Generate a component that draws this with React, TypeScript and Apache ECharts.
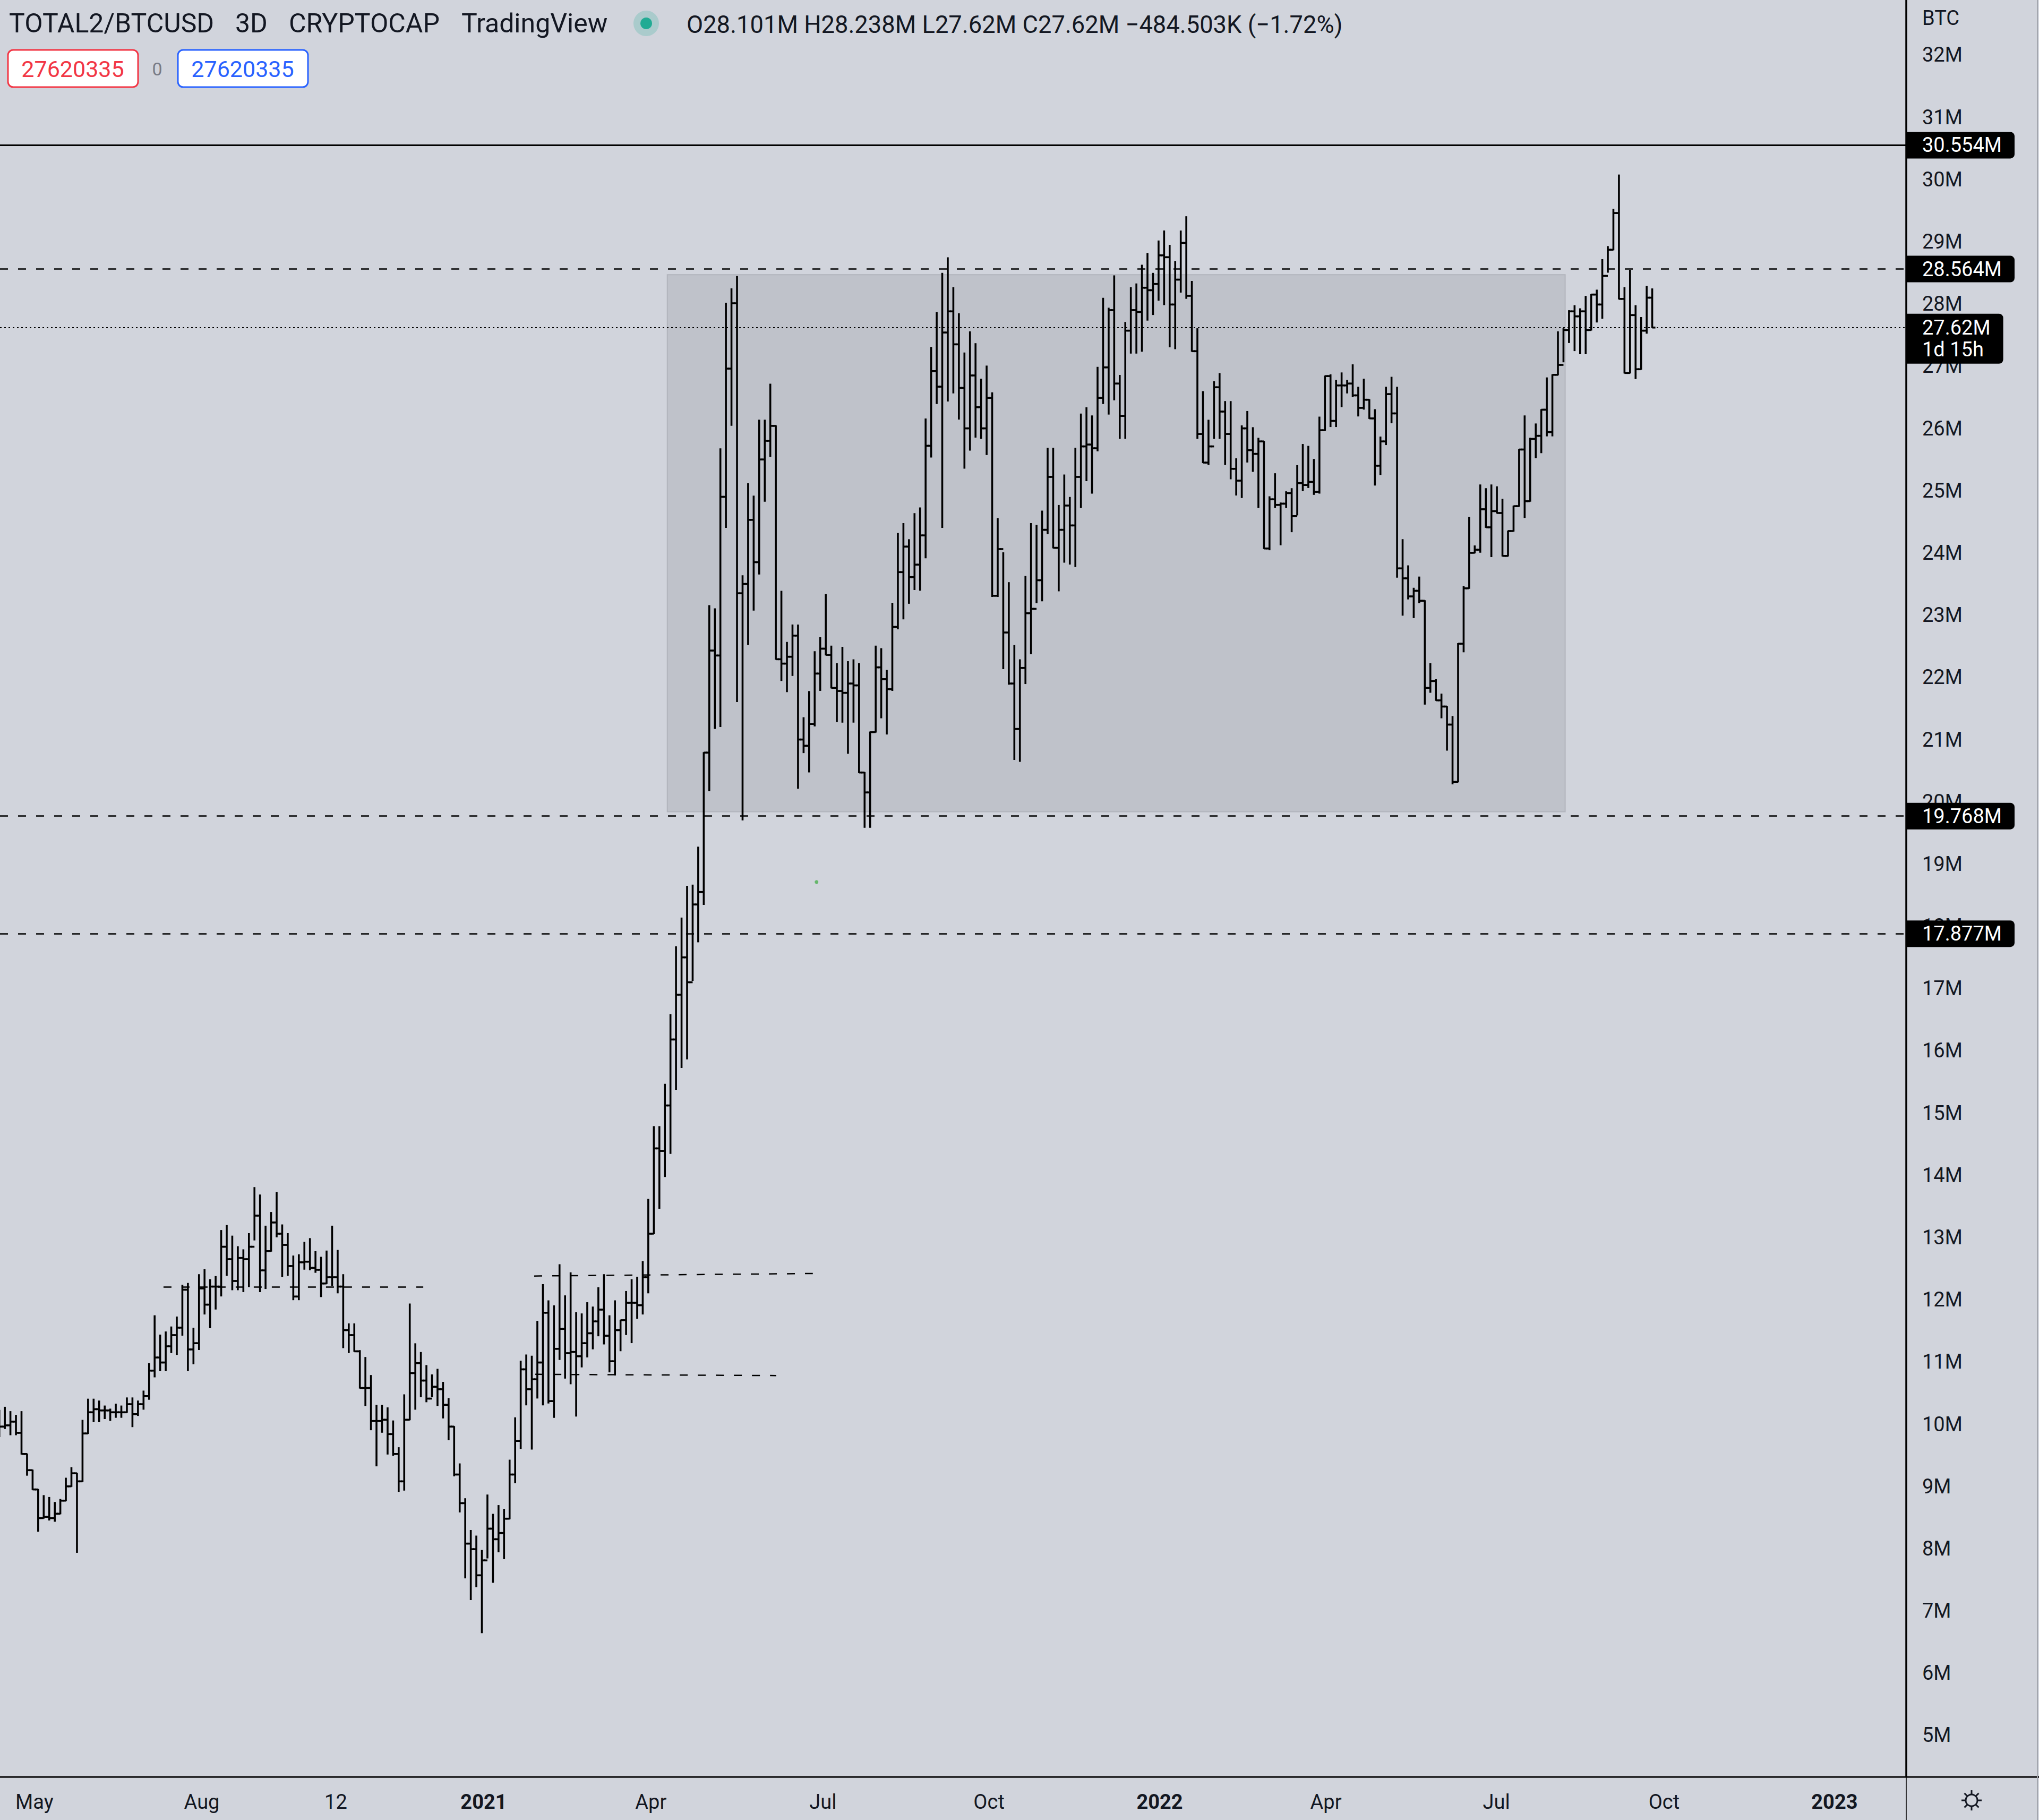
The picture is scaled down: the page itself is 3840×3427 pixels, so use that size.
import React, { useEffect, useRef } from 'react';
import * as echarts from 'echarts';

// ---- DATA (values in millions of BTC) ----
// x is days since 2021-01-01; 3-day bars
const FIRST_BAR_DAY = -262;
const BAR_STEP_DAYS = 3;
const FIRST_OPEN = 9.7;

const HIGHS = [
  10.22, 10.27, 10.2, 10.14, 10.2, 9.52, 9.26, 8.95, 8.85, 8.82, 8.74, 8.79, 9.13, 9.3, 9.21, 10.06, 10.4, 10.4, 10.37, 10.29,
  10.24, 10.32, 10.29, 10.42, 10.42, 10.37, 10.53, 10.97, 11.74, 11.43, 11.48, 11.56, 11.72, 12.23, 12.26, 11.54, 12.4, 12.48, 12.32, 12.37,
  13.11, 13.19, 13.02, 12.85, 12.8, 13.06, 13.8, 13.68, 13.18, 13.4, 13.72, 13.2, 13.06, 12.7, 12.72, 12.92, 12.98, 12.77, 12.68, 12.78,
  13.18, 12.79, 12.4, 11.61, 11.61, 11.18, 11.07,
  10.78, 10.3, 10.3, 10.26, 10.05, 9.62, 10.47, 11.93, 11.29, 11.15, 10.94, 10.79, 10.88, 10.67, 10.41, 9.96, 9.36, 8.8, 8.29, 8.2,
  7.97, 8.86, 8.55, 8.69, 8.63, 9.42, 10.1, 11.01, 11.11, 11.09, 11.65, 12.24, 11.98, 11.9, 12.56, 12.06, 12.43, 11.79, 11.77, 11.95,
  11.88, 12.19, 12.4, 11.74, 11.98, 11.67, 12.13, 12.32, 12.36, 12.61,
  13.61, 14.78, 14.78, 15.46, 16.58, 17.67, 18.13, 18.64, 18.66, 19.27, 20.79, 23.15, 23.1, 25.67, 28.01, 28.24, 28.44, 23.63, 25.11, 24.91,
  26.13, 26.13, 26.71, 26.04, 23.38, 22.56, 22.84, 22.84, 21.35, 21.77, 22.41, 22.64, 23.33, 22.5, 22.22, 22.48, 22.25, 22.28, 22.22, 20.47,
  21.12, 22.5, 22.46, 22.11, 23.19, 24.31, 24.47, 24.21, 24.63, 24.72, 26.15, 27.3, 27.86, 28.49, 28.74, 28.26, 27.84, 27.21, 27.55, 27.36,
  26.79, 27.0, 26.57, 24.55, 24.0,
  23.52, 22.51, 22.28, 23.62, 24.47, 24.44, 24.67, 25.68, 25.68, 24.76, 25.25, 24.89, 25.68, 26.23, 26.33, 26.2, 26.98, 28.09, 27.93, 28.45,
  26.85, 27.7, 28.26, 28.32, 28.62, 28.81, 28.49, 29.01, 29.17, 28.94, 28.68, 29.17, 29.4, 28.36, 27.6, 26.59, 26.13, 26.75, 26.88, 26.43,
  26.43, 25.51, 26.04,
  26.27, 26.01, 25.84, 25.79, 24.9, 25.27, 24.8, 24.98, 25.03, 25.4, 25.74, 25.71, 25.5, 26.18, 26.84, 26.86, 26.77, 26.89, 26.77, 27.02,
  26.66, 26.79, 26.46, 26.3, 25.86, 26.66, 26.82, 26.66, 24.21, 23.79, 23.43, 23.61, 23.23, 22.22, 21.96, 21.73, 21.53, 21.37, 22.54, 23.46,
  24.57, 24.11, 25.09, 25.03, 25.09, 25.06, 24.86, 24.35, 24.75, 25.66, 26.2, 25.84, 26.07, 26.3, 26.81, 26.86,
  27.55, 27.6, 27.89, 27.97, 27.92, 28.12, 28.15, 28.22, 28.71, 28.92, 29.52, 30.07, 28.26, 28.54, 27.97, 27.78, 28.28, 28.24,
];

const LOWS = [
  9.8, 9.93, 9.83, 9.83, 9.52, 9.18, 8.95, 8.28, 8.49, 8.46, 8.44, 8.56, 8.77, 9.0, 7.94, 9.08, 9.85, 10.04, 10.04, 10.09,
  10.06, 10.11, 10.11, 10.19, 9.96, 10.14, 10.24, 10.4, 10.76, 10.86, 10.86, 11.15, 11.12, 11.43, 10.86, 10.97, 11.2, 11.77, 11.55, 11.85,
  12.06, 12.39, 12.16, 12.16, 12.13, 12.21, 12.96, 12.13, 12.18, 12.78, 13.01, 12.37, 12.39, 12.0, 12.0, 12.49, 12.48, 12.44, 12.05, 12.26,
  12.23, 12.11, 11.23, 11.15, 11.17, 10.58, 10.3,
  9.91, 9.33, 9.87, 9.52, 9.5, 8.92, 8.94, 10.07, 10.24, 10.44, 10.36, 10.44, 10.3, 10.1, 9.75, 9.17, 8.59, 7.53, 7.18, 7.39,
  6.65, 7.85, 7.46, 7.95, 7.84, 8.48, 9.06, 9.61, 10.31, 9.6, 10.42, 10.31, 10.34, 10.11, 11.04, 10.74, 10.65, 10.13, 10.92, 11.08,
  11.21, 11.42, 11.29, 10.84, 10.79, 11.18, 11.44, 11.31, 11.7, 11.77,
  12.11, 13.06, 13.47, 13.98, 14.35, 15.38, 15.73, 15.87, 17.13, 17.75, 18.35, 20.18, 21.18, 21.21, 24.41, 26.05, 21.61, 19.71, 22.53, 23.08,
  23.66, 24.83, 25.55, 22.29, 21.95, 21.77, 22.03, 20.22, 20.79, 20.48, 21.22, 21.79, 22.36, 21.83, 21.29, 21.28, 20.78, 21.28, 20.47, 19.59,
  19.59, 21.12, 21.35, 21.09, 21.79, 22.78, 22.94, 23.19, 23.41, 23.4, 23.92, 25.54, 26.4, 24.41, 26.44, 26.57, 26.15, 25.36, 25.65, 25.86,
  25.84, 25.58, 23.3, 23.3, 22.14,
  21.89, 20.68, 20.65, 21.9, 22.38, 23.2, 23.23, 24.31, 24.08, 23.39, 23.85, 23.82, 23.78, 24.73, 25.16, 24.96, 25.64, 26.4, 26.23, 26.46,
  25.84, 25.84, 27.21, 27.21, 27.24, 27.74, 27.83, 28.06, 27.99, 27.31, 27.28, 28.19, 28.09, 27.24, 25.84, 25.45, 25.42, 25.84, 25.84, 25.42,
  25.19, 24.93, 24.89,
  25.46, 25.31, 24.73, 24.07, 24.05, 24.73, 24.13, 24.73, 24.34, 24.61, 25.0, 25.05, 24.94, 24.96, 25.97, 26.03, 26.03, 26.35, 26.57, 26.51,
  26.2, 26.31, 26.16, 25.09, 25.26, 25.74, 26.09, 23.61, 23.0, 23.26, 22.96, 23.2, 21.57, 21.76, 21.63, 21.35, 20.83, 20.29, 20.32, 22.41,
  23.43, 24.0, 24.01, 24.41, 23.94, 24.64, 23.95, 23.95, 24.35, 24.75, 24.57, 24.83, 25.53, 25.61, 25.88, 25.88,
  26.86, 27.07, 27.38, 27.25, 27.2, 27.2, 27.58, 27.71, 27.77, 28.51, 28.87, 28.08, 26.89, 26.89, 26.8, 26.95, 27.53, 27.62,
];

const CLOSES = [
  9.96, 9.98, 10.04, 9.86, 9.52, 9.26, 8.95, 8.49, 8.51, 8.49, 8.56, 8.77, 9.0, 9.21, 9.08, 9.85, 10.19, 10.24, 10.22, 10.22,
  10.19, 10.19, 10.19, 10.32, 10.16, 10.32, 10.45, 10.86, 11.07, 10.99, 11.25, 11.43, 11.55, 12.16, 11.2, 11.3, 12.18, 11.92, 12.21, 12.21,
  12.85, 12.65, 12.3, 12.67, 12.65, 12.85, 13.35, 12.47, 12.78, 13.24, 13.06, 12.88, 12.54, 12.05, 12.6, 12.61, 12.51, 12.48, 12.26, 12.36,
  12.36, 12.21, 11.51, 11.43, 11.17, 10.58, 10.58,
  10.05, 10.05, 10.07, 9.84, 9.52, 9.08, 10.07, 10.82, 10.98, 10.7, 10.41, 10.6, 10.56, 10.31, 9.96, 9.19, 8.73, 8.08, 7.99, 7.57,
  7.81, 8.32, 8.15, 8.25, 8.48, 9.19, 9.73, 10.88, 10.56, 10.72, 10.99, 11.79, 10.37, 11.21, 11.53, 11.14, 11.16, 11.09, 11.3, 11.46,
  11.65, 11.84, 11.42, 11.01, 11.51, 11.67, 11.95, 11.95, 11.91, 12.36,
  13.06, 14.43, 14.39, 15.12, 16.18, 16.9, 17.5, 17.1, 18.35, 18.55, 20.79, 22.43, 22.35, 24.9, 26.96, 28.01, 23.35, 23.5, 24.53, 23.85,
  25.5, 25.8, 26.04, 22.29, 22.22, 22.33, 22.67, 21.0, 20.9, 21.25, 22.06, 22.46, 22.36, 21.83, 21.78, 21.75, 21.9, 21.87, 20.47, 20.15,
  21.12, 22.16, 21.97, 21.81, 22.81, 23.69, 24.1, 23.61, 23.81, 24.28, 25.72, 26.92, 26.67, 27.54, 27.88, 27.35, 26.65, 26.0, 26.85, 26.34,
  26.0, 26.49, 23.31, 24.06, 22.72,
  21.9, 21.17, 22.15, 23.03, 23.1, 23.56, 24.37, 25.22, 24.08, 24.37, 24.76, 24.44, 25.22, 25.71, 25.74, 25.68, 26.49, 26.98, 27.9, 26.72,
  26.2, 27.57, 27.9, 27.87, 28.26, 28.22, 28.32, 28.78, 28.75, 27.99, 28.39, 28.98, 28.13, 27.24, 25.91, 25.45, 25.71, 26.66, 26.27, 25.91,
  25.35, 25.16, 26.0,
  25.65, 25.59, 25.79, 24.07, 24.86, 24.77, 24.79, 24.96, 24.59, 25.12, 25.09, 25.14, 24.98, 25.97, 26.84, 26.12, 26.69, 26.69, 26.72, 26.53,
  26.33, 26.46, 26.16, 25.4, 25.79, 26.55, 26.24, 23.75, 23.59, 23.3, 23.39, 23.23, 21.83, 21.94, 21.63, 21.53, 21.24, 20.32, 22.54, 23.43,
  24.0, 24.05, 24.7, 24.41, 24.67, 24.64, 23.95, 24.35, 24.75, 25.66, 24.83, 25.83, 25.88, 26.3, 25.94, 26.86,
  27.02, 27.58, 27.88, 27.8, 27.88, 27.58, 28.15, 27.99, 28.45, 28.87, 29.46, 28.08, 26.89, 27.82, 26.95, 27.57, 28.1, 27.62,
];

const Y_TICKS = [5, 6, 7, 8, 9, 10, 11, 12, 13, 14, 15, 16, 17, 18, 19, 20, 21, 22, 23, 24, 25, 26, 27, 28, 29, 30, 31, 32];
const X_LABEL_DAYS = [-243, -152.5, -80, 0, 90.4, 183.5, 273.3, 365.6, 455.5, 547.7, 638.4, 730.6];
const X_LABEL_TEXT = ['May', 'Aug', '12', '2021', 'Apr', 'Jul', 'Oct', '2022', 'Apr', 'Jul', 'Oct', '2023'];
const X_BOLD = ['2021', '2022', '2023'];

// horizontal levels: value, tag text, style
const LEVEL_VALUES = [30.554, 28.564, 27.62, 19.768, 17.877];
const LEVEL_TAGS = ['30.554M', '28.564M', '27.62M\n1d 15h', '19.768M', '17.877M'];
const LEVEL_STYLES = ['solid', 'dashed', 'dotted', 'dashed', 'dashed'];

// short dashed segments: [startDay, startValue, endDay, endValue]
const SEGMENTS = [
  [-173.2, 12.2, -32.7, 12.2],
  [27.3, 12.38, 178, 12.42],
  [27.9, 10.8, 158.2, 10.78],
];

// range box: [startDay, endDay, low, high]
const RANGE_BOX = [99.3, 584.9, 19.84, 28.47];
const MARKER_DOT = [180, 18.71];

const X_MIN = -261.63;
const X_MAX = 769.4;
const Y_MIN = 4.33;
const Y_MAX = 32.883;

const FONT = 'Roboto, "Liberation Sans", sans-serif';
const BG = '#d1d4dc';
const INK = '#131722';

export default function App() {
  const ref = useRef<HTMLDivElement>(null);

  useEffect(() => {
    if (!ref.current) return;
    const chart = echarts.init(ref.current, undefined, { renderer: 'svg' });

    const bars = CLOSES.map((c, i) => [
      FIRST_BAR_DAY + i * BAR_STEP_DAYS,
      i === 0 ? FIRST_OPEN : CLOSES[i - 1],
      c,
      LOWS[i],
      HIGHS[i],
    ]);

    const lw = 3.6;
    const tick = 6;

    const tagLabel = (text: string, twoLine: boolean) => ({
      show: true,
      position: 'end',
      formatter: text,
      distance: 0,
      offset: twoLine ? [0, 21] : [0, 0],
      color: '#ffffff',
      backgroundColor: '#000000',
      fontSize: 38,
      fontFamily: FONT,
      lineHeight: 41,
      padding: twoLine ? [6, 24, 6, 30] : [5, 24, 4, 30],
      borderRadius: [0, 8, 8, 0],
      align: 'left',
    });

    const levelLines = LEVEL_VALUES.map((v, i) => {
      const st = LEVEL_STYLES[i];
      return {
        yAxis: v,
        lineStyle:
          st === 'solid'
            ? { type: 'solid', width: 3, color: '#000' }
            : st === 'dashed'
            ? { type: [15, 19], width: 2.5, color: '#000' }
            : { type: [3, 5], width: 2, color: '#000' },
        label: tagLabel(LEVEL_TAGS[i], LEVEL_TAGS[i].indexOf('\n') >= 0),
      };
    });

    const segLines = SEGMENTS.map((s) => [
      { coord: [s[0], s[1]], lineStyle: { type: [15, 19], width: 2.5, color: '#000' }, label: { show: false } },
      { coord: [s[2], s[3]] },
    ]);

    const gearChildren: any[] = [
      { type: 'circle', shape: { cx: 0, cy: 0, r: 11 }, style: { fill: 'none', stroke: INK, lineWidth: 3 } },
    ];
    for (let k = 0; k < 8; k++) {
      const a = (k * Math.PI) / 4;
      gearChildren.push({
        type: 'line',
        shape: { x1: Math.cos(a) * 12, y1: Math.sin(a) * 12, x2: Math.cos(a) * 19, y2: Math.sin(a) * 19 },
        style: { stroke: INK, lineWidth: 3 },
      });
    }

    const hText = (x: number, y: number, text: string, size: number, fill: string, extra: any = {}) => ({
      type: 'text',
      x,
      y,
      style: { text, fontSize: size, fontFamily: FONT, fill, verticalAlign: 'middle', align: 'left', ...extra },
      z: 100,
    });

    const option: any = {
      animation: false,
      backgroundColor: BG,
      grid: { left: 0, right: 250, top: 0, bottom: 81, containLabel: false },
      xAxis: {
        type: 'value',
        min: X_MIN,
        max: X_MAX,
        axisLine: { show: false },
        axisTick: { show: false },
        splitLine: { show: false },
        axisLabel: {
          customValues: X_LABEL_DAYS,
          margin: 28,
          fontSize: 38,
          fontFamily: FONT,
          color: INK,
          formatter: (v: number) => {
            const i = X_LABEL_DAYS.indexOf(v);
            const t = i >= 0 ? X_LABEL_TEXT[i] : '';
            return X_BOLD.includes(t) ? '{b|' + t + '}' : t;
          },
          rich: { b: { fontWeight: 'bold', fontSize: 38, fontFamily: FONT, color: INK } },
        },
      },
      yAxis: {
        type: 'value',
        position: 'right',
        min: Y_MIN,
        max: Y_MAX,
        axisLine: { show: false },
        axisTick: { show: false },
        splitLine: { show: false },
        axisLabel: {
          customValues: Y_TICKS,
          margin: 30,
          fontSize: 38,
          fontFamily: FONT,
          color: INK,
          formatter: (v: number) => v + 'M',
        },
      },
      series: [
        {
          type: 'scatter',
          data: [MARKER_DOT],
          symbolSize: 7,
          itemStyle: { color: '#4caf50' },
          z: 1,
          silent: true,
          markArea: {
            silent: true,
            itemStyle: { color: '#bfc2ca', borderColor: '#b1b4bc', borderWidth: 2 },
            data: [[{ coord: [RANGE_BOX[0], RANGE_BOX[3]] }, { coord: [RANGE_BOX[1], RANGE_BOX[2]] }]],
          },
        },
        {
          type: 'custom',
          data: bars,
          encode: { x: 0, y: [1, 2, 3, 4] },
          clip: true,
          z: 3,
          silent: true,
          renderItem: (params: any, api: any) => {
            const x = api.value(0);
            const o = api.coord([x, api.value(1)]);
            const c = api.coord([x, api.value(2)]);
            const l = api.coord([x, api.value(3)]);
            const h = api.coord([x, api.value(4)]);
            const st = { stroke: '#000', lineWidth: lw, lineCap: 'butt' };
            return {
              type: 'group',
              children: [
                { type: 'line', shape: { x1: h[0], y1: h[1] - 1, x2: l[0], y2: l[1] + 1 }, style: st },
                { type: 'line', shape: { x1: o[0] - tick, y1: o[1], x2: o[0], y2: o[1] }, style: st },
                { type: 'line', shape: { x1: c[0], y1: c[1], x2: c[0] + tick, y2: c[1] }, style: st },
              ],
            };
          },
        },
        {
          type: 'line',
          data: [],
          z: 4,
          silent: true,
          markLine: {
            silent: true,
            symbol: ['none', 'none'],
            animation: false,
            data: [...levelLines, ...segLines],
          },
        },
      ],
      graphic: [
        // axes frame
        { type: 'line', shape: { x1: 0, y1: 3346, x2: 3840, y2: 3346 }, style: { stroke: '#000', lineWidth: 3 }, z: 50 },
        { type: 'line', shape: { x1: 3590, y1: 0, x2: 3590, y2: 3346 }, style: { stroke: '#000', lineWidth: 3.5 }, z: 50 },
        { type: 'line', shape: { x1: 3590, y1: 3346, x2: 3590, y2: 3427 }, style: { stroke: '#000', lineWidth: 1.5 }, z: 50 },
        { type: 'line', shape: { x1: 3837, y1: 0, x2: 3837, y2: 3427 }, style: { stroke: '#a3a6ae', lineWidth: 2 }, z: 50 },
        // header
        hText(17, 44, 'TOTAL2/BTCUSD', 50, INK),
        hText(443, 44, '3D', 50, INK),
        hText(544, 44, 'CRYPTOCAP', 50, INK),
        hText(869, 44, 'TradingView', 50, INK),
        { type: 'circle', shape: { cx: 1217, cy: 44, r: 24 }, style: { fill: 'rgba(34,171,148,0.22)' }, z: 100 },
        { type: 'circle', shape: { cx: 1217, cy: 44, r: 11 }, style: { fill: '#22ab94' }, z: 101 },
        hText(1293, 46, 'O28.101M H28.238M L27.62M C27.62M \u2212484.503K (\u22121.72%)', 45.3, INK),
        // order boxes
        { type: 'rect', shape: { x: 15, y: 94, width: 245, height: 70, r: 10 }, style: { fill: '#ffffff', stroke: '#f23645', lineWidth: 3 }, z: 100 },
        hText(137, 130, '27620335', 43, '#f23645', { align: 'center' }),
        hText(296, 130, '0', 34, '#787b86', { align: 'center' }),
        { type: 'rect', shape: { x: 335, y: 94, width: 245, height: 70, r: 10 }, style: { fill: '#ffffff', stroke: '#2962ff', lineWidth: 3 }, z: 100 },
        hText(457, 130, '27620335', 43, '#2962ff', { align: 'center' }),
        // price axis unit
        hText(3620, 34, 'BTC', 38, INK),
        // settings icon
        { type: 'group', x: 3713, y: 3390, children: gearChildren, z: 100 },
      ],
    };

    chart.setOption(option);
    return () => chart.dispose();
  }, []);

  return (
    <div
      ref={ref}
      style={{ position: 'fixed', left: 0, top: 0, width: 3840, height: 3427, background: BG }}
    />
  );
}
